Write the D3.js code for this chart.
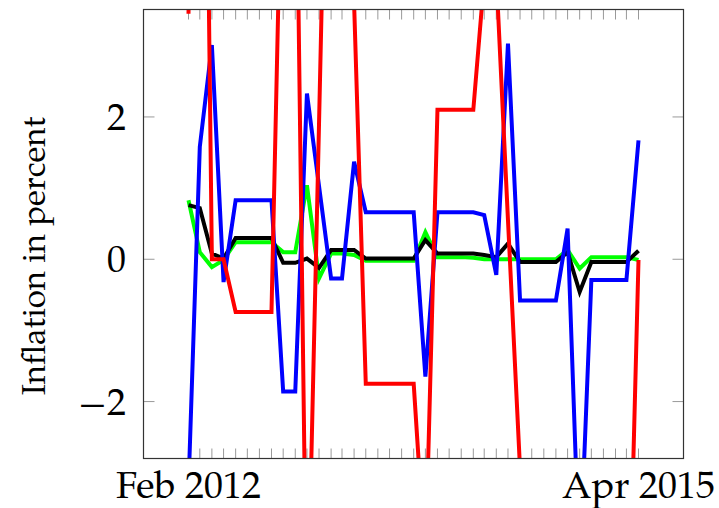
<!DOCTYPE html>
<html>
<head>
	<meta charset="utf-8">
	<title></title>
	<style type="text/css">
		body {
			margin: 0;
			background-color: #fff;
		}

		svg {
			display: block;
			background-color: #fff;
		}

		.tick line {
			stroke: #999;
		}

		.tickLabel, .axisLabel {
			font-family: 'TeX Gyre Pagella', 'Palatino Linotype', 'Liberation Serif', serif;
			font-size: 38px;
			fill: #000;
		}

		.axisLabel {
			font-size: 33px;
		}

		.series {
			fill: none;
			stroke-width: 4px;
			stroke-linejoin: miter;
		}
	</style>
	<script type="text/javascript" src="https://cdn.jsdelivr.net/npm/d3@7/dist/d3.min.js"></script>
</head>

<body>
	<div id='chart'></div>
	<script type="text/javascript">
		// monthly observations
		var months = ['2012-02','2012-03','2012-04','2012-05','2012-06','2012-07','2012-08','2012-09','2012-10','2012-11','2012-12',
			'2013-01','2013-02','2013-03','2013-04','2013-05','2013-06','2013-07','2013-08','2013-09','2013-10','2013-11','2013-12',
			'2014-01','2014-02','2014-03','2014-04','2014-05','2014-06','2014-07','2014-08','2014-09','2014-10','2014-11','2014-12',
			'2015-01','2015-02','2015-03','2015-04'];

		var greenValues = [0.83, 0.10, -0.11, -0.01, 0.24, 0.24, 0.24, 0.24, 0.10, 0.10, 1.04,
			-0.27, 0.08, 0.08, 0.06, -0.02, -0.02, -0.02, -0.02, -0.02, 0.38, 0.03, 0.03,
			0.03, 0.02, 0.00, 0.00, 0.00, 0.00, 0.00, 0.00, 0.00, 0.13, -0.13, 0.03,
			0.03, 0.03, 0.03, -0.01];

		var blackValues = [0.76, 0.72, 0.08, 0.01, 0.30, 0.30, 0.30, 0.30, -0.05, -0.05, 0.01,
			-0.12, 0.13, 0.13, 0.13, 0.01, 0.01, 0.01, 0.01, 0.01, 0.27, 0.08, 0.08,
			0.08, 0.08, 0.06, 0.03, 0.22, -0.04, -0.04, -0.04, -0.04, 0.10, -0.46, -0.04,
			-0.04, -0.04, -0.04, 0.12];

		var blueValues = [-3.2, 1.58, 3.01, -0.32, 0.83, 0.83, 0.83, 0.83, -1.86, -1.86, 2.33,
			1.03, -0.27, -0.27, 1.37, 0.66, 0.66, 0.66, 0.66, 0.66, -1.65, 0.66, 0.66,
			0.66, 0.66, 0.62, -0.22, 3.03, -0.58, -0.58, -0.58, -0.58, 0.43, -4.4, -0.29,
			-0.29, -0.29, -0.29, 1.67];

		var redValues = [3.45, 14.4, 0.00, 0.00, -0.74, -0.74, -0.74, -0.74, 6.7, 7.0, -5.5,
			1.9, 9.5, 8.0, 3.6, -1.75, -1.75, -1.75, -1.75, -1.75, -4.3, 2.1, 2.1,
			2.1, 2.1, 3.95, 4.0, 0.55, -2.95, -3.5, -3.5, -3.5, -4.5, -4.5, -4.5,
			-6.6, -6.6, -6.6, -0.01];

		var xTickMonths = ['2012-02', '2015-04'];
		var xTickLabels = ['Feb 2012', 'Apr 2015'];
		var yTicks = [-2, 0, 2];
		var yDomain = [-2.8, 3.51];

		var width = 719, height = 508;
		// note: "top" is taken by window.top, so plot edges get their own names
		var plotLeft = 143.5, plotRight = 683.5, plotTop = 9.5, plotBottom = 458.5;

		var parseMonth = d3.timeParse('%Y-%m');
		var dates = months.map(parseMonth);

		var svg = d3.select('#chart')
			.append('svg')
			.attr('width', width)
			.attr('height', height);

		// pgfplots style: enlarge x limits by 10% on each side
		var span = dates[dates.length - 1] - dates[0];
		var xScale = d3.scaleTime()
			.domain([new Date(+dates[0] - span * 0.1), new Date(+dates[dates.length - 1] + span * 0.1)])
			.range([plotLeft, plotRight]);

		var yScale = d3.scaleLinear()
			.domain(yDomain)
			.range([plotBottom, plotTop]);

		svg.append('clipPath')
			.attr('id', 'plotClip')
			.append('rect')
			.attr('x', plotLeft)
			.attr('y', plotTop)
			.attr('width', plotRight - plotLeft)
			.attr('height', plotBottom - plotTop);

		// minor month ticks, bottom and top
		var tickG = svg.append('g').attr('class', 'tick');
		tickG.selectAll('.xb')
			.data(dates)
			.enter()
			.append('line')
			.attr('x1', function(d){ return xScale(d); })
			.attr('x2', function(d){ return xScale(d); })
			.attr('y1', plotBottom)
			.attr('y2', plotBottom - 10);
		tickG.selectAll('.xt')
			.data(dates)
			.enter()
			.append('line')
			.attr('x1', function(d){ return xScale(d); })
			.attr('x2', function(d){ return xScale(d); })
			.attr('y1', plotTop)
			.attr('y2', plotTop + 10);

		// y ticks, both sides
		tickG.selectAll('.yl')
			.data(yTicks)
			.enter()
			.append('line')
			.attr('x1', plotLeft)
			.attr('x2', plotLeft + 11)
			.attr('y1', function(d){ return yScale(d); })
			.attr('y2', function(d){ return yScale(d); });
		tickG.selectAll('.yr')
			.data(yTicks)
			.enter()
			.append('line')
			.attr('x1', plotRight)
			.attr('x2', plotRight - 11)
			.attr('y1', function(d){ return yScale(d); })
			.attr('y2', function(d){ return yScale(d); });

		var series = [
			{ values: greenValues, color: '#00ff00' },
			{ values: blackValues, color: '#000000' },
			{ values: blueValues, color: '#0000ff' },
			{ values: redValues, color: '#ff0000' }
		];

		var line = d3.line()
			.x(function(d, i){ return xScale(dates[i]); })
			.y(function(d){ return yScale(d); });

		svg.append('g')
			.attr('clip-path', 'url(#plotClip)')
			.selectAll('path')
			.data(series)
			.enter()
			.append('path')
			.attr('class', 'series')
			.attr('stroke', function(d){ return d.color; })
			.attr('d', function(d){ return line(d.values); });

		// frame
		svg.append('rect')
			.attr('x', plotLeft)
			.attr('y', plotTop)
			.attr('width', plotRight - plotLeft)
			.attr('height', plotBottom - plotTop)
			.attr('fill', 'none')
			.attr('stroke', '#333')
			.attr('stroke-width', 1.2);

		svg.selectAll('.xLabel')
			.data(xTickMonths)
			.enter()
			.append('text')
			.attr('class', 'tickLabel')
			.attr('x', function(d){ return xScale(parseMonth(d)); })
			.attr('y', 498)
			.attr('text-anchor', 'middle')
			.text(function(d, i){ return xTickLabels[i]; });

		var yFormat = d3.format('d');
		svg.selectAll('.yLabel')
			.data(yTicks)
			.enter()
			.append('text')
			.attr('class', 'tickLabel')
			.attr('x', 126)
			.attr('y', function(d){ return yScale(d) + 13; })
			.attr('text-anchor', 'end')
			.text(function(d){ return yFormat(d); });

		svg.append('text')
			.attr('class', 'axisLabel')
			.attr('transform', 'translate(45,256) rotate(-90)')
			.attr('text-anchor', 'middle')
			.text('Inflation in percent');
	</script>
</body>
</html>
